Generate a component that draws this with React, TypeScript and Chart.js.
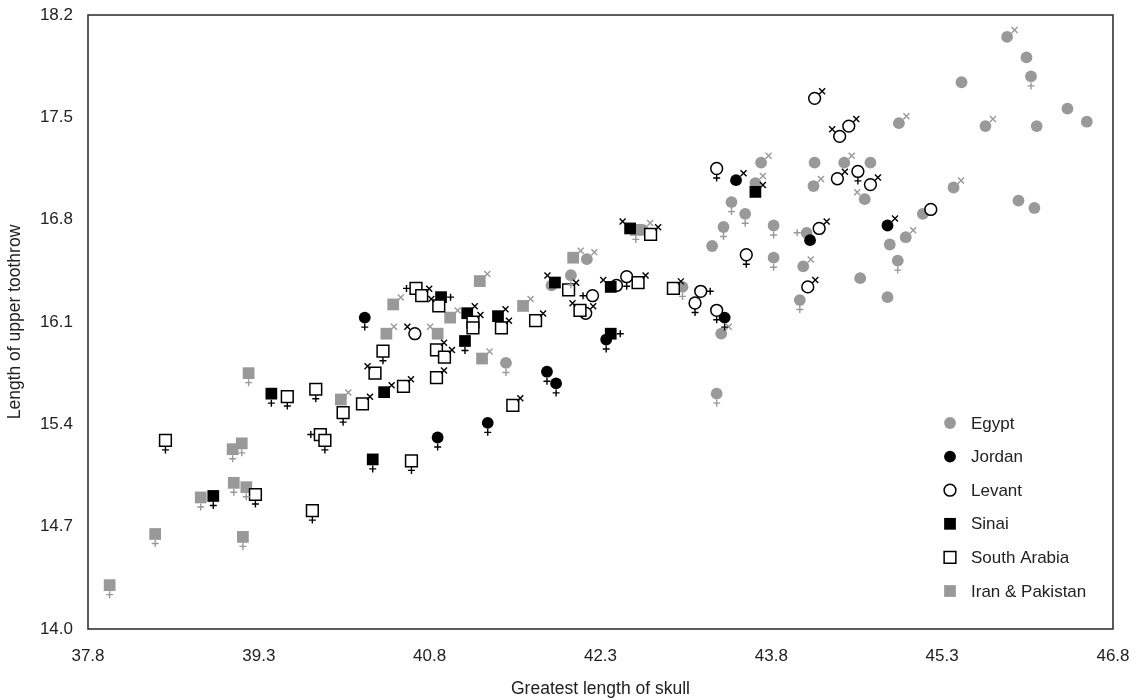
import React, { useEffect, useRef } from 'react';
import { Chart, registerables } from 'chart.js';

Chart.register(...registerables);

const xTicks = [37.8, 39.3, 40.8, 42.3, 43.8, 45.3, 46.8];
const yTicks = [14.0, 14.7, 15.4, 16.1, 16.8, 17.5, 18.2];

// Sex codes: F = female (+ below), FL / FR = + left / right, M = male (x upper right), ML = x upper left, U = none
const egyptX = [41.87, 41.47, 42.67, 42.18, 42.04, 43.02, 43.36, 43.28, 43.38, 43.57, 43.45, 43.32, 44.92, 43.71, 43.66, 44.18, 44.44, 44.67, 44.17, 44.62, 43.82, 43.82, 44.11, 44.08, 44.58, 44.05, 44.82, 44.84, 44.91, 44.98, 45.87, 46.04, 46.08, 45.47, 46.4, 46.57, 46.13, 45.68, 45.4, 45.13, 45.97, 46.11];
const egyptY = [16.35, 15.82, 16.73, 16.53, 16.42, 16.34, 16.02, 16.62, 16.75, 16.84, 16.92, 15.61, 17.46, 17.19, 17.05, 17.19, 17.19, 17.19, 17.03, 16.94, 16.76, 16.54, 16.71, 16.48, 16.4, 16.25, 16.27, 16.63, 16.52, 16.68, 18.05, 17.91, 17.78, 17.74, 17.56, 17.47, 17.44, 17.44, 17.02, 16.84, 16.93, 16.88];
const egyptSex = ['U', 'F', 'M', 'M', 'F', 'F', 'M', 'U', 'F', 'F', 'F', 'F', 'M', 'M', 'M', 'U', 'M', 'U', 'M', 'ML', 'F', 'F', 'FL', 'M', 'U', 'F', 'U', 'U', 'F', 'M', 'M', 'U', 'F', 'U', 'U', 'U', 'U', 'M', 'M', 'U', 'U', 'U'];

const jordanX = [40.23, 41.83, 41.91, 41.31, 40.87, 42.35, 43.39, 43.49, 44.14, 44.82];
const jordanY = [16.13, 15.76, 15.68, 15.41, 15.31, 15.98, 16.13, 17.07, 16.66, 16.76];
const jordanSex = ['F', 'F', 'F', 'F', 'F', 'F', 'F', 'M', 'U', 'M'];

const levantX = [40.67, 42.17, 42.23, 42.44, 42.53, 43.18, 43.13, 43.32, 43.58, 43.32, 44.18, 44.4, 44.48, 44.38, 44.56, 44.67, 44.22, 44.12, 45.2];
const levantY = [16.02, 16.16, 16.28, 16.35, 16.41, 16.31, 16.23, 16.18, 16.56, 17.15, 17.63, 17.37, 17.44, 17.08, 17.13, 17.04, 16.74, 16.34, 16.87];
const levantSex = ['ML', 'M', 'FL', 'U', 'F', 'FR', 'F', 'F', 'F', 'F', 'M', 'ML', 'M', 'M', 'F', 'M', 'M', 'M', 'U'];

const sinaiX = [39.41, 38.9, 41.9, 40.9, 41.13, 41.4, 41.11, 40.4, 40.3, 42.56, 42.39, 42.39, 43.66];
const sinaiY = [15.61, 14.91, 16.37, 16.27, 16.16, 16.14, 15.97, 15.62, 15.16, 16.74, 16.34, 16.02, 16.99];
const sinaiSex = ['F', 'F', 'ML', 'FR', 'M', 'M', 'F', 'M', 'F', 'ML', 'ML', 'FR', 'M'];

const arabiaX = [39.55, 39.8, 40.04, 38.48, 39.84, 39.88, 39.27, 39.77, 40.68, 40.73, 40.88, 41.18, 41.18, 41.43, 41.73, 40.39, 40.86, 40.93, 40.32, 40.86, 40.57, 40.21, 41.53, 40.64, 42.74, 42.02, 42.12, 42.63, 42.94];
const arabiaY = [15.59, 15.64, 15.48, 15.29, 15.33, 15.29, 14.92, 14.81, 16.33, 16.28, 16.21, 16.1, 16.06, 16.06, 16.11, 15.9, 15.91, 15.86, 15.75, 15.72, 15.66, 15.54, 15.53, 15.15, 16.7, 16.32, 16.18, 16.37, 16.33];
const arabiaSex = ['F', 'F', 'F', 'F', 'FL', 'F', 'F', 'F', 'FL', 'M', 'ML', 'M', 'U', 'M', 'M', 'F', 'M', 'M', 'ML', 'M', 'M', 'M', 'M', 'F', 'M', 'M', 'ML', 'M', 'M'];

const iranX = [39.21, 40.02, 39.07, 39.15, 39.08, 39.19, 38.79, 38.39, 39.16, 37.99, 41.24, 40.48, 40.98, 41.62, 40.42, 40.87, 41.26, 42.06, 42.61];
const iranY = [15.75, 15.57, 15.23, 15.27, 15.0, 14.97, 14.9, 14.65, 14.63, 14.3, 16.38, 16.22, 16.13, 16.21, 16.02, 16.02, 15.85, 16.54, 16.73];
const iranSex = ['F', 'M', 'F', 'F', 'F', 'F', 'F', 'F', 'F', 'F', 'M', 'M', 'M', 'M', 'M', 'ML', 'M', 'M', 'F'];

const GRAY = '#999999';
const BLACK = '#000000';
const FONT = '"Liberation Sans", Arial, Helvetica, sans-serif';

type Series = {
  label: string;
  xs: number[];
  ys: number[];
  sex: string[];
  shape: 'circle' | 'rect';
  fill: string;
  open: boolean;
  glyph: string;
  order: number;
};

const series: Series[] = [
  { label: 'Egypt', xs: egyptX, ys: egyptY, sex: egyptSex, shape: 'circle', fill: GRAY, open: false, glyph: GRAY, order: 10 },
  { label: 'Jordan', xs: jordanX, ys: jordanY, sex: jordanSex, shape: 'circle', fill: BLACK, open: false, glyph: BLACK, order: 5 },
  { label: 'Levant', xs: levantX, ys: levantY, sex: levantSex, shape: 'circle', fill: '#ffffff', open: true, glyph: BLACK, order: 4 },
  { label: 'Sinai', xs: sinaiX, ys: sinaiY, sex: sinaiSex, shape: 'rect', fill: BLACK, open: false, glyph: BLACK, order: 3 },
  { label: 'South Arabia', xs: arabiaX, ys: arabiaY, sex: arabiaSex, shape: 'rect', fill: '#ffffff', open: true, glyph: BLACK, order: 2 },
  { label: 'Iran & Pakistan', xs: iranX, ys: iranY, sex: iranSex, shape: 'rect', fill: GRAY, open: false, glyph: GRAY, order: 9 },
];

const CIRCLE_R = 5.9;
const RECT_R = 8.3;

function drawMarker(ctx: CanvasRenderingContext2D, s: Series, x: number, y: number) {
  ctx.save();
  ctx.beginPath();
  if (s.shape === 'circle') {
    ctx.arc(x, y, CIRCLE_R, 0, Math.PI * 2);
  } else {
    const h = RECT_R * Math.SQRT1_2;
    ctx.rect(x - h, y - h, 2 * h, 2 * h);
  }
  ctx.fillStyle = s.fill;
  ctx.fill();
  if (s.open) {
    ctx.lineWidth = 1.5;
    ctx.strokeStyle = BLACK;
    ctx.stroke();
  }
  ctx.restore();
}

function drawSex(ctx: CanvasRenderingContext2D, code: string, x: number, y: number, color: string) {
  ctx.save();
  ctx.strokeStyle = color;
  ctx.lineWidth = 1.4;
  ctx.beginPath();
  if (code === 'F') {
    ctx.moveTo(x, y + 6); ctx.lineTo(x, y + 13);
    ctx.moveTo(x - 3.5, y + 9.5); ctx.lineTo(x + 3.5, y + 9.5);
  } else if (code === 'FL') {
    ctx.moveTo(x - 6, y); ctx.lineTo(x - 13, y);
    ctx.moveTo(x - 9.5, y - 3.5); ctx.lineTo(x - 9.5, y + 3.5);
  } else if (code === 'FR') {
    ctx.moveTo(x + 6, y); ctx.lineTo(x + 13, y);
    ctx.moveTo(x + 9.5, y - 3.5); ctx.lineTo(x + 9.5, y + 3.5);
  } else if (code === 'M' || code === 'ML') {
    const cx = code === 'M' ? x + 7.5 : x - 7.5;
    const cy = y - 7;
    ctx.moveTo(cx - 3, cy - 3); ctx.lineTo(cx + 3, cy + 3);
    ctx.moveTo(cx - 3, cy + 3); ctx.lineTo(cx + 3, cy - 3);
  }
  ctx.stroke();
  ctx.restore();
}

const framePlugin = {
  id: 'frame',
  beforeDatasetsDraw(chart: any) {
    const { ctx, chartArea: a } = chart;
    ctx.save();
    ctx.strokeStyle = '#333333';
    ctx.lineWidth = 1.6;
    ctx.strokeRect(a.left, a.top, a.right - a.left, a.bottom - a.top);
    ctx.restore();
  },
};

const sexPlugin = {
  id: 'sexGlyphs',
  afterDatasetsDraw(chart: any) {
    const ctx = chart.ctx;
    series.forEach((s, di) => {
      const meta = chart.getDatasetMeta(di);
      meta.data.forEach((el: any, j: number) => {
        drawSex(ctx, s.sex[j], el.x, el.y, s.glyph);
      });
    });
  },
};

const legendPlugin = {
  id: 'insideLegend',
  afterDraw(chart: any) {
    const { ctx, chartArea: a } = chart;
    const mx = a.right - 163;
    const tx = a.right - 142;
    const y0 = a.bottom - 206;
    const step = 33.6;
    ctx.save();
    ctx.font = `17px ${FONT}`;
    ctx.textBaseline = 'middle';
    ctx.textAlign = 'left';
    series.forEach((s, i) => {
      const y = y0 + i * step;
      drawMarker(ctx, s, mx, y);
      ctx.fillStyle = '#222222';
      ctx.fillText(s.label, tx, y + 1);
    });
    ctx.restore();
  },
};

export default function App() {
  const ref = useRef<HTMLCanvasElement | null>(null);

  useEffect(() => {
    if (!ref.current) return;
    const tickFont = { family: FONT, size: 17 };
    const titleFont = { family: FONT, size: 17.5 };
    const chart = new Chart(ref.current, {
      type: 'scatter',
      data: {
        datasets: series.map((s) => ({
          label: s.label,
          data: s.xs.map((x, i) => ({ x, y: s.ys[i] })),
          pointStyle: s.shape,
          pointRadius: s.shape === 'rect' ? RECT_R : CIRCLE_R,
          pointHoverRadius: s.shape === 'rect' ? RECT_R : CIRCLE_R,
          backgroundColor: s.fill,
          borderColor: BLACK,
          borderWidth: s.open ? 1.5 : 0,
          pointBorderWidth: s.open ? 1.5 : 0,
          order: s.order,
        })),
      },
      options: {
        animation: false,
        responsive: true,
        maintainAspectRatio: false,
        events: [],
        layout: { padding: { top: 15, right: 23, left: 0, bottom: 0 } },
        plugins: {
          legend: { display: false },
          tooltip: { enabled: false },
        },
        scales: {
          x: {
            type: 'linear',
            min: xTicks[0],
            max: xTicks[xTicks.length - 1],
            afterBuildTicks: (scale: any) => {
              scale.ticks = xTicks.map((v) => ({ value: v }));
            },
            afterFit: (scale: any) => {
              scale.height = 71;
              scale.paddingLeft = 0;
              scale.paddingRight = 0;
            },
            grid: { display: false, drawTicks: false, tickLength: 0 },
            border: { display: false },
            ticks: {
              padding: 17,
              color: '#222222',
              font: tickFont,
              autoSkip: false,
              maxRotation: 0,
              callback: (v: any) => Number(v).toFixed(1),
            },
            title: {
              display: true,
              text: 'Greatest length of skull',
              color: '#222222',
              font: titleFont,
              padding: { top: 0, bottom: 0 },
            },
          },
          y: {
            type: 'linear',
            min: yTicks[0],
            max: yTicks[yTicks.length - 1],
            afterBuildTicks: (scale: any) => {
              scale.ticks = yTicks.map((v) => ({ value: v }));
            },
            afterFit: (scale: any) => {
              scale.width = 88;
              scale.paddingTop = 0;
              scale.paddingBottom = 0;
            },
            grid: { display: false, drawTicks: false, tickLength: 0 },
            border: { display: false },
            ticks: {
              padding: 15,
              color: '#222222',
              font: tickFont,
              autoSkip: false,
              callback: (v: any) => Number(v).toFixed(1),
            },
            title: {
              display: true,
              text: 'Length of upper toothrow',
              color: '#222222',
              font: titleFont,
              padding: { top: 5, bottom: 0 },
            },
          },
        },
      },
      plugins: [framePlugin, sexPlugin, legendPlugin],
    } as any);
    return () => chart.destroy();
  }, []);

  return (
    <div style={{ position: 'absolute', left: 0, top: 0, width: 1136, height: 700, background: '#ffffff' }}>
      <canvas ref={ref} />
    </div>
  );
}
